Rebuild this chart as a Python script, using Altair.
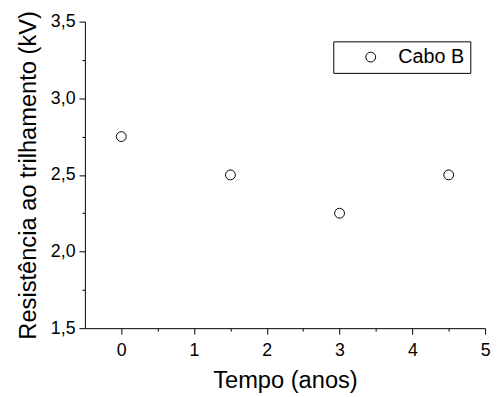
import altair as alt
import pandas as pd

tempo = [0, 1.5, 3, 4.5]
resistencia = [2.75, 2.5, 2.25, 2.5]
serie = ["Cabo B"] * 4

x_major = [0, 1, 2, 3, 4, 5]
x_minor = [0.5, 1.5, 2.5, 3.5, 4.5]
y_major = [1.5, 2.0, 2.5, 3.0, 3.5]
y_minor = [1.75, 2.25, 2.75, 3.25]

df = pd.DataFrame({"tempo": tempo, "res": resistencia, "serie": serie})

FONT = "Liberation Sans"
x_scale = alt.Scale(domain=[-0.5, 5], nice=False, zero=False)
y_scale = alt.Scale(domain=[1.5, 3.5], nice=False, zero=False)

x_axis = alt.Axis(
    orient="bottom",
    title="Tempo (anos)",
    values=x_major,
    format="d",
    tickSize=6,
    tickWidth=1,
    domainWidth=1,
    grid=False,
    labelFont=FONT, labelFontSize=18, labelColor="black",
    titleFont=FONT, titleFontSize=24, titleFontWeight="normal", titleColor="black",
    labelPadding=8, titlePadding=9,
    domainColor="black", tickColor="black",
    labelOverlap=False, labelFlush=False,
)
y_axis = alt.Axis(
    orient="left",
    title="Resistência ao trilhamento (kV)",
    values=y_major,
    labelExpr="replace(format(datum.value, '.1f'), '.', ',')",
    tickSize=6,
    tickWidth=1,
    domainWidth=1,
    grid=False,
    labelFont=FONT, labelFontSize=18, labelColor="black",
    titleFont=FONT, titleFontSize=24, titleFontWeight="normal", titleColor="black",
    labelPadding=4, titlePadding=10,
    domainColor="black", tickColor="black",
    labelOverlap=False, labelFlush=False,
)

x_minor_axis = alt.Axis(
    orient="bottom", title=None, values=x_minor, labels=False, domain=False,
    grid=False, tickSize=3, tickWidth=1, tickColor="black",
)
y_minor_axis = alt.Axis(
    orient="left", title=None, values=y_minor, labels=False, domain=False,
    grid=False, tickSize=3, tickWidth=1, tickColor="black",
)

points = alt.Chart(df).mark_point(filled=False, size=100, strokeWidth=1, opacity=1).encode(
    x=alt.X("tempo:Q", scale=x_scale, axis=x_axis),
    y=alt.Y("res:Q", scale=y_scale, axis=y_axis),
    color=alt.Color(
        "serie:N",
        scale=alt.Scale(range=["black"]),
        legend=alt.Legend(
            title=None,
            orient="none",
            legendX=252,
            legendY=20,
            strokeColor="black",
            padding=6,
            symbolType="circle",
            symbolSize=100,
            symbolStrokeWidth=1,
            symbolOffset=22,
            labelOffset=18,
            labelFont=FONT,
            labelFontSize=20,
            labelColor="black",
        ),
    ),
)

minor = alt.Chart(df).mark_point(opacity=0).encode(
    x=alt.X("tempo:Q", scale=x_scale, axis=x_minor_axis),
    y=alt.Y("res:Q", scale=y_scale, axis=y_minor_axis),
)

chart = alt.layer(points, minor).resolve_axis(
    x="independent", y="independent"
).properties(
    width=406,
    height=311,
    autosize=alt.AutoSizeParams(type="none"),
    padding={"left": 78, "top": 11, "right": 6, "bottom": 67},
    background="white",
).configure_view(stroke=None)

chart.save("out.html", embed_options={"renderer": "svg", "actions": False})
